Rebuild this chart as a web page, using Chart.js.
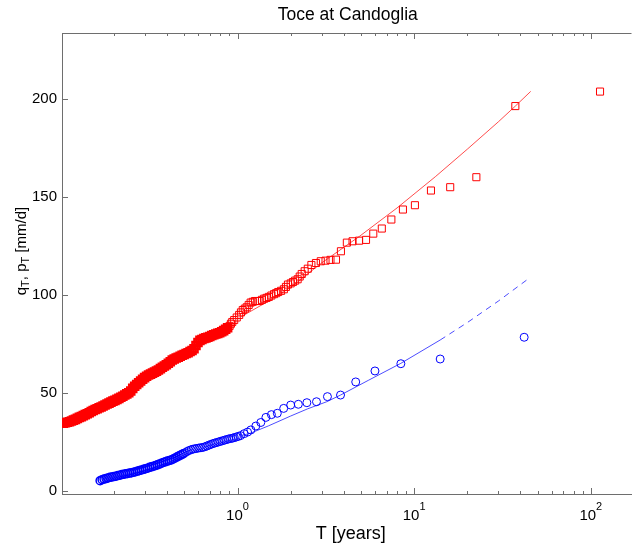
<!DOCTYPE html>
<html>
<head>
<meta charset="utf-8">
<title>Toce at Candoglia</title>
<script src="https://cdn.jsdelivr.net/npm/chart.js@4.4.1/dist/chart.umd.min.js"></script>
<style>
  html, body { margin: 0; padding: 0; background: #fff; }
  #chart { display: block; }
</style>
</head>
<body>
<canvas id="chart" width="639" height="549"></canvas>
<script>
// Return periods T [years] and values q_T (red squares)
const redT = [
  0.1035, 0.1062, 0.1090, 0.1119, 0.1148, 0.1178, 0.1209, 0.1240, 0.1273, 0.1306,
  0.1340, 0.1375, 0.1411, 0.1448, 0.1486, 0.1524, 0.1564, 0.1605, 0.1647, 0.1690,
  0.1734, 0.1779, 0.1826, 0.1873, 0.1922, 0.1972, 0.2024, 0.2077, 0.2131, 0.2187,
  0.2244, 0.2302, 0.2362, 0.2424, 0.2487, 0.2552, 0.2619, 0.2687, 0.2757, 0.2829,
  0.2903, 0.2979, 0.3057, 0.3136, 0.3218, 0.3302, 0.3388, 0.3477, 0.3567, 0.3661,
  0.3756, 0.3854, 0.3955, 0.4058, 0.4164, 0.4273, 0.4384, 0.4499, 0.4616, 0.4737,
  0.4860, 0.4987, 0.5117, 0.5251, 0.5388, 0.5529, 0.5673, 0.5821, 0.5973, 0.6129,
  0.6289, 0.6453, 0.6622, 0.6795, 0.6972, 0.7154, 0.7341, 0.7532, 0.7729, 0.7931,
  0.8138, 0.8350, 0.8568, 0.8792, 0.9022,
  0.918, 0.934, 0.958, 0.99, 1.022, 1.046, 1.071, 1.10, 1.127, 1.157,
  1.187, 1.22, 1.256, 1.295, 1.333, 1.375, 1.416, 1.46, 1.504, 1.555,
  1.61, 1.655, 1.70, 1.765, 1.83, 1.88, 1.93, 2.0, 2.06, 2.12,
  2.19, 2.25, 2.31, 2.40, 2.50, 2.62, 2.78, 2.96, 3.15, 3.36,
  3.61, 3.85, 4.16, 4.48, 4.88, 5.34, 5.87, 6.56, 7.43, 8.64,
  10.1, 12.45, 16.0, 22.5, 37.4, 112.8
];
const redQ = [
  34.6, 34.9, 35.1, 35.4, 35.8, 36.2, 36.6, 37.1, 37.6, 38.0,
  38.5, 39.0, 39.5, 40.0, 40.6, 41.1, 41.6, 42.0, 42.5, 42.9,
  43.4, 43.9, 44.4, 44.9, 45.4, 45.9, 46.3, 46.8, 47.3, 47.9,
  48.4, 49.0, 49.6, 50.2, 51.1, 52.4, 53.5, 54.4, 55.3, 56.2,
  57.1, 57.9, 58.6, 59.2, 59.7, 60.2, 60.7, 61.2, 61.8, 62.5,
  63.2, 63.8, 64.5, 65.2, 66.0, 66.9, 67.4, 67.9, 68.3, 68.8,
  69.3, 69.7, 70.2, 70.6, 71.2, 71.7, 72.6, 74.3, 75.8, 76.9,
  77.4, 77.9, 78.2, 78.5, 78.9, 79.4, 79.8, 80.2, 80.5, 80.8,
  81.3, 81.9, 82.6, 83.4, 84.3,
  85.4, 86.3, 87.3, 88.6, 89.9, 91.2, 92.4, 93.1, 93.8, 95.0,
  96.2, 96.6, 97.0, 97.0, 97.0, 97.6, 98.2, 98.6, 99.1, 99.8,
  100.5, 101.0, 101.6, 102.2, 103.0, 104.2, 105.4, 106.0, 106.7, 107.4,
  108.1, 109.5, 110.8, 112.2, 113.5, 115.4, 116.4, 117.3, 117.6, 118.0,
  118.1, 122.4, 126.8, 127.5, 127.8, 128.2, 131.4, 134.0, 138.6, 143.7,
  145.9, 153.4, 155.1, 160.2, 196.5, 203.9
];

// Return periods and values p_T (blue circles)
const blueT = [
  0.1668, 0.1712, 0.1756, 0.1802, 0.1849, 0.1897, 0.1947, 0.1998, 0.2050, 0.2104,
  0.2159, 0.2215, 0.2273, 0.2332, 0.2393, 0.2455, 0.2519, 0.2585, 0.2653, 0.2722,
  0.2793, 0.2866, 0.2941, 0.3018, 0.3096, 0.3177, 0.3260, 0.3345, 0.3432, 0.3522,
  0.3614, 0.3708, 0.3805, 0.3904, 0.4006, 0.4111, 0.4218, 0.4328, 0.4441, 0.4557,
  0.4676, 0.4798, 0.4923, 0.5051, 0.5183, 0.5318, 0.5457, 0.5600, 0.5746, 0.5895,
  0.6049, 0.6207, 0.6369, 0.6535, 0.6706, 0.6881, 0.7060, 0.7245, 0.7434, 0.7628,
  0.7827, 0.8031, 0.8241, 0.8456, 0.8677, 0.8904, 0.9138, 0.9377,
  0.96, 0.985, 1.01, 1.04, 1.09, 1.14, 1.19, 1.27, 1.355, 1.448,
  1.556, 1.68, 1.826, 2.0, 2.21, 2.47, 2.80, 3.23, 3.83, 4.67,
  6.0, 8.41, 14.04, 41.96
];
const blueP = [
  5.3, 5.8, 6.1, 6.4, 6.7, 7.0, 7.2, 7.4, 7.6, 7.9,
  8.1, 8.4, 8.6, 8.8, 9.0, 9.2, 9.4, 9.6, 9.9, 10.2,
  10.5, 10.8, 11.1, 11.4, 11.7, 12.1, 12.4, 12.7, 13.0, 13.4,
  13.8, 14.2, 14.6, 14.9, 15.3, 15.6, 15.9, 16.4, 16.9, 17.5,
  18.0, 18.5, 19.0, 19.6, 20.2, 20.7, 21.1, 21.4, 21.6, 21.8,
  22.0, 22.1, 22.3, 22.6, 23.0, 23.4, 23.8, 24.2, 24.5, 24.8,
  25.1, 25.4, 25.7, 26.0, 26.3, 26.6, 26.8, 27.0,
  27.3, 27.6, 27.9, 28.3, 29.3, 30.1, 31.2, 33.2, 35.0, 37.6,
  39.0, 39.7, 42.2, 43.9, 44.3, 45.1, 45.6, 48.2, 49.0, 55.7,
  61.3, 65.0, 67.4, 78.5
];

// Fitted curves
const redFitT = [1.05, 1.5, 2, 3, 4.9, 8, 13.2, 20, 30, 37.4, 45.7];
const redFitQ = [89, 97, 104, 116.5, 130, 144.5, 160.5, 174.5, 188.5, 196.5, 204];
const blueFitT = [1.05, 1.19, 1.5, 2, 2.5, 3.2, 3.83, 5.5, 8.41, 14.04];
const blueFitP = [28.3, 29.6, 33.3, 38.3, 42, 45.6, 49, 56.5, 65.2, 77.1];
const blueExtT = [14.04, 20, 30, 44.7];
const blueExtP = [77.1, 86, 97, 108.6];

// Axis ticks
const yTicks = [0, 50, 100, 150, 200];
const xLabelDecades = [0, 1, 2];

const FONT = '"Liberation Sans", Arial, Helvetica, sans-serif';
const AXIS_COLOR = '#6e6e6e';

function toXY(xs, ys) {
    return xs.map((x, i) => ({ x: x, y: ys[i] }));
}

// Text made of normal / subscript (1) / superscript (2) pieces
function richWidth(ctx, parts, size) {
    let w = 0;
    parts.forEach(p => {
        ctx.font = (p[1] ? Math.round(size * 0.72) : size) + 'px ' + FONT;
        w += ctx.measureText(p[0]).width;
    });
    return w;
}
function drawRich(ctx, parts, cx, baseline, size) {
    let x = cx - richWidth(ctx, parts, size) / 2;
    ctx.textAlign = 'left';
    ctx.textBaseline = 'alphabetic';
    parts.forEach(p => {
        const s = p[1] ? Math.round(size * 0.72) : size;
        ctx.font = s + 'px ' + FONT;
        let dy = 0;
        if (p[1] === 1) dy = 3;
        if (p[1] === 2) dy = -10;
        ctx.fillText(p[0], x, baseline + dy);
        x += ctx.measureText(p[0]).width;
    });
}

// MATLAB-like box: inward ticks, top border, exponent labels and titles
const matlabAxes = {
    id: 'matlabAxes',
    afterDraw(chart) {
        const ctx = chart.ctx;
        const a = chart.chartArea;
        const xs = chart.scales.x;
        const ys = chart.scales.y;
        ctx.save();
        ctx.strokeStyle = AXIS_COLOR;
        ctx.lineWidth = 1;
        ctx.beginPath();
        ctx.moveTo(a.left, a.top + 0.5);
        ctx.lineTo(a.right, a.top + 0.5);

        // log ticks, major ones at the decades
        for (let d = -1; d <= 2; d++) {
            for (let m = 1; m <= 9; m++) {
                const v = m * Math.pow(10, d);
                if (v < xs.min || v > xs.max) continue;
                const px = Math.round(xs.getPixelForValue(v)) + 0.5;
                const len = m === 1 ? 6 : 3;
                ctx.moveTo(px, a.bottom);
                ctx.lineTo(px, a.bottom - len);
                ctx.moveTo(px, a.top);
                ctx.lineTo(px, a.top + len);
            }
        }
        yTicks.forEach(v => {
            const py = Math.round(ys.getPixelForValue(v)) + 0.5;
            ctx.moveTo(a.left, py);
            ctx.lineTo(a.left + 6, py);
        });
        ctx.stroke();

        ctx.fillStyle = '#000';
        xLabelDecades.forEach(d => {
            const px = xs.getPixelForValue(Math.pow(10, d));
            drawRich(ctx, [['10', 0], [String(d), 2]], px, 520, 15);
        });

        const cx = (a.left + a.right) / 2;
        drawRich(ctx, [['Toce at Candoglia', 0]], cx + 1, 19.5, 17.5);
        drawRich(ctx, [['T [years]', 0]], cx + 4, 538.5, 18);

        ctx.translate(26, 251);
        ctx.rotate(-Math.PI / 2);
        drawRich(ctx, [['q', 0], ['T', 1], [', p', 0], ['T', 1], [' [mm/d]', 0]], 0, 0, 15);
        ctx.restore();
    }
};

// thicker outlines where the markers pile up into a solid band
function denseWidth(limit, wide) {
    return function(c) {
        return c.raw && c.raw.x < limit ? wide : 1;
    };
}

const ctx = document.getElementById('chart').getContext('2d');
new Chart(ctx, {
    type: 'scatter',
    data: {
        datasets: [
            {
                label: 'q fit',
                data: toXY(redFitT, redFitQ),
                showLine: true,
                borderColor: 'rgba(255,0,0,0.7)',
                borderWidth: 1,
                pointRadius: 0,
                order: 0
            },
            {
                label: 'p fit',
                data: toXY(blueFitT, blueFitP),
                showLine: true,
                borderColor: 'rgba(0,0,255,0.7)',
                borderWidth: 1,
                pointRadius: 0,
                order: 0
            },
            {
                label: 'p fit (extrapolated)',
                data: toXY(blueExtT, blueExtP),
                showLine: true,
                borderColor: 'rgba(0,0,255,0.7)',
                borderWidth: 1,
                borderDash: [6, 5],
                pointRadius: 0,
                order: 0
            },
            {
                label: 'q',
                data: toXY(redT, redQ),
                pointStyle: 'rect',
                pointRadius: 5,
                borderColor: '#ff0000',
                backgroundColor: 'rgba(0,0,0,0)',
                pointBorderWidth: denseWidth(0.9, 2.5),
                order: 1
            },
            {
                label: 'p',
                data: toXY(blueT, blueP),
                pointStyle: 'circle',
                pointRadius: 4,
                borderColor: '#0000ff',
                backgroundColor: 'rgba(0,0,0,0)',
                pointBorderWidth: denseWidth(0.5, 1.5),
                order: 1
            }
        ]
    },
    options: {
        responsive: false,
        animation: false,
        devicePixelRatio: 1,
        events: [],
        layout: { padding: { top: 33, right: 0, left: 0, bottom: 0 } },
        plugins: {
            legend: { display: false },
            tooltip: { enabled: false }
        },
        scales: {
            x: {
                type: 'logarithmic',
                min: 0.1015,
                max: 170,
                grid: { display: false, drawTicks: false },
                border: { display: true, color: AXIS_COLOR },
                ticks: { display: false },
                afterFit: function(scale) { scale.height = 55; }
            },
            y: {
                type: 'linear',
                min: -1.5,
                max: 233.8,
                grid: { display: false, drawTicks: false },
                border: { display: true, color: AXIS_COLOR },
                ticks: {
                    color: '#000',
                    padding: 5,
                    font: { family: FONT, size: 15 }
                },
                afterBuildTicks: function(scale) {
                    scale.ticks = yTicks.map(v => ({ value: v }));
                },
                afterFit: function(scale) { scale.width = 62; }
            }
        }
    },
    plugins: [matlabAxes]
});
</script>
</body>
</html>
